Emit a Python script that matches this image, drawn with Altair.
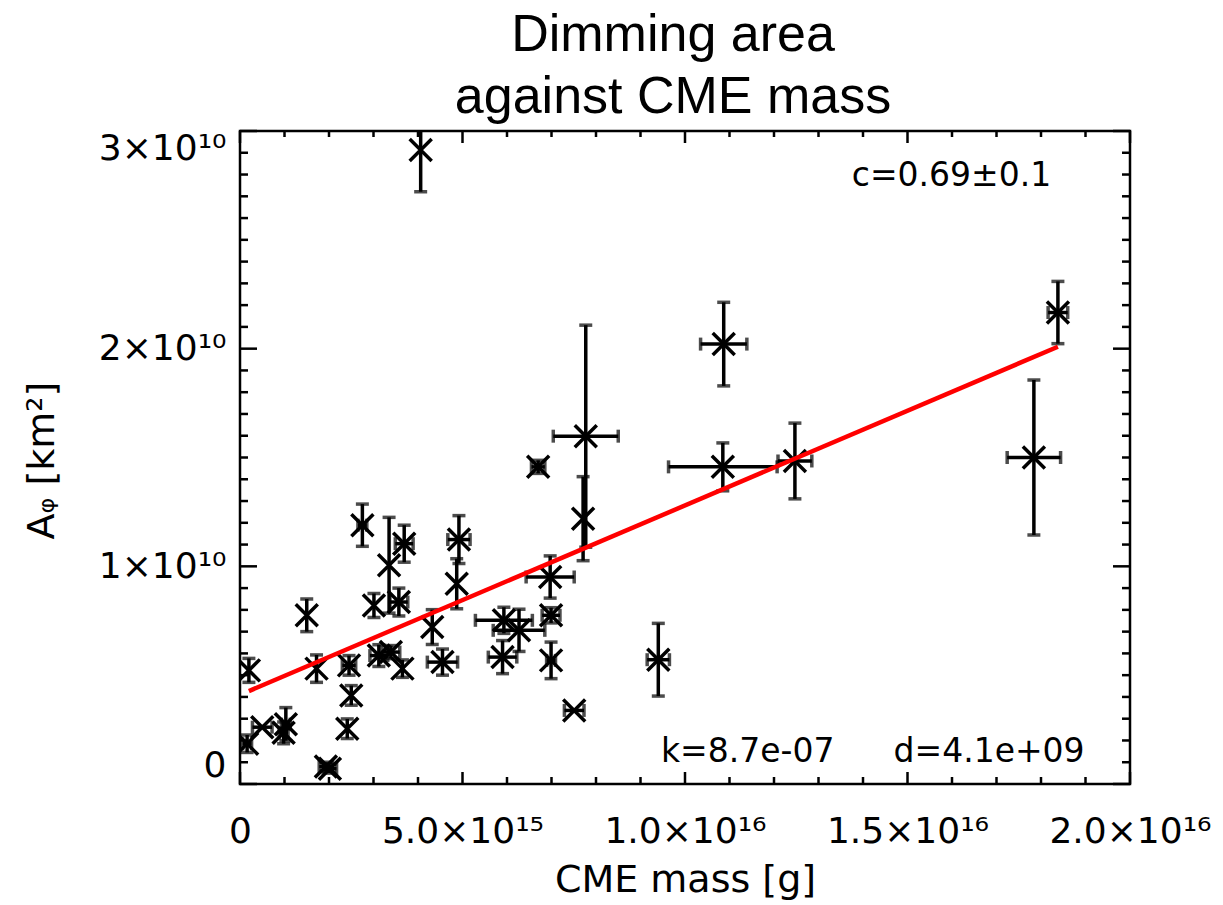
import altair as alt
import pandas as pd

# ---- data (mass in 1e15 g, area in 1e9 km^2) ----
mass_e15 = [0.20, 0.16, 0.50, 0.98, 1.03, 1.50, 1.72, 1.93, 2.02, 2.45,
            2.50, 2.41, 3.01, 3.57, 3.12, 3.39, 3.65, 4.32, 4.55, 2.75,
            3.35, 3.69, 4.92, 4.87, 7.77, 7.71, 6.70, 6.97, 5.93, 6.27,
            5.90, 6.99, 6.99, 7.51, 9.40, 10.87, 10.85, 12.47, 17.84, 18.38,
            4.06]
area_e9 = [5.22, 1.85, 2.61, 2.35, 2.75, 7.75, 5.30, 0.80, 0.70, 5.45,
           4.07, 2.54, 8.20, 8.36, 5.90, 6.06, 5.30, 7.21, 5.60, 11.89,
           10.05, 11.04, 11.23, 9.20, 15.98, 12.19, 14.57, 9.51, 7.52, 7.06,
           5.83, 7.75, 5.68, 3.38, 5.71, 20.21, 14.57, 14.84, 15.00, 21.66,
           29.13]
mass_err_e15 = [0.0, 0.10, 0.22, 0.10, 0.10, 0.0, 0.0, 0.15, 0.15, 0.15,
                0.0, 0.0, 0.0, 0.20, 0.20, 0.20, 0.0, 0.0, 0.34, 0.10,
                0.0, 0.20, 0.25, 0.0, 0.73, 0.0, 0.15, 0.54, 0.64, 0.58,
                0.32, 0.20, 0.10, 0.22, 0.25, 0.52, 1.22, 0.38, 0.60, 0.22,
                0.0]
area_err_e9 = [0.55, 0.40, 0.0, 0.50, 0.76, 0.75, 0.63, 0.20, 0.20, 0.45,
               0.45, 0.45, 0.55, 0.64, 0.50, 0.30, 0.40, 0.80, 0.60, 0.97,
               2.20, 0.85, 1.10, 1.15, 5.10, 1.93, 0.30, 0.97, 0.60, 0.97,
               0.76, 0.35, 0.84, 0.0, 1.67, 1.92, 1.10, 1.74, 3.56, 1.43,
               1.92]

# linear fit drawn in red (end points)
fit_mass_e15 = [0.20, 18.38]
fit_area_e9 = [4.27, 20.09]

# tick values and labels
x_tick_values = [0, 5e15, 1e16, 1.5e16, 2e16]
x_tick_labels = ["0", "5.0×10¹⁵", "1.0×10¹⁶", "1.5×10¹⁶", "2.0×10¹⁶"]
y_tick_values = [0, 1e10, 2e10, 3e10]
y_tick_labels = ["0", "1×10¹⁰", "2×10¹⁰", "3×10¹⁰"]
x_minor_values = [i * 1e15 for i in range(21) if i % 5 != 0]
y_minor_values = [i * 1e9 for i in range(31) if i % 10 != 0]

# annotations
ann_right_text = ["c=0.69±0.1", "d=4.1e+09"]
ann_right_x = [18.23e15, 18.98e15]
ann_right_y = [27.93e9, 1.45e9]
ann_left_text = ["k=8.7e-07"]
ann_left_x = [9.46e15]
ann_left_y = [1.45e9]

W, H = 890, 653
FONT = "DejaVu Sans"

df = pd.DataFrame({
    "mass": [m * 1e15 for m in mass_e15],
    "area": [a * 1e9 for a in area_e9],
    "mass_err": [e * 1e15 for e in mass_err_e15],
    "area_err": [e * 1e9 for e in area_err_e9],
})
df["mlo"] = df["mass"] - df["mass_err"]
df["mhi"] = df["mass"] + df["mass_err"]
df["alo"] = df["area"] - df["area_err"]
df["ahi"] = df["area"] + df["area_err"]
dfx = df[df["mass_err"] > 0]
dfy = df[df["area_err"] > 0]

fit_df = pd.DataFrame({"mass": [m * 1e15 for m in fit_mass_e15],
                       "area": [a * 1e9 for a in fit_area_e9]})


def label_expr(vals, labels, tol):
    expr = "''"
    for v, l in reversed(list(zip(vals, labels))):
        expr = f"abs(datum.value - {v!r}) < {tol} ? '{l}' : ({expr})"
    return expr


xscale = alt.Scale(domain=[0, 2e16], nice=False, zero=False)
yscale = alt.Scale(domain=[0, 3e10], nice=False, zero=False)

xaxis = alt.Axis(
    values=x_tick_values, labelExpr=label_expr(x_tick_values, x_tick_labels, 1e11),
    title="CME mass [g]", ticks=False, tickSize=0, domain=False, grid=False,
    labelFlush=False, labelOverlap=False, labelBound=False,
    labelFont=FONT, labelFontSize=36, labelColor="black",
    labelPadding=58, labelBaseline="alphabetic",
    titleFont=FONT, titleFontSize=38, titleFontWeight="normal", titleColor="black",
    titleY=107, titleBaseline="alphabetic",
)
yaxis = alt.Axis(
    values=y_tick_values, labelExpr=label_expr(y_tick_values, y_tick_labels, 1e6),
    title="Aᵩ [km²]", ticks=False, tickSize=0, domain=False, grid=False,
    labelFlush=True, labelOverlap=False, labelBound=False,
    labelFont=FONT, labelFontSize=36, labelColor="black", labelPadding=14,
    titleFont=FONT, titleFontSize=38, titleFontWeight="normal", titleColor="black",
    titleX=-187, titleY=329, titleBaseline="alphabetic", titleAlign="center",
    titleAngle=-90,
)

X = lambda f: alt.X(f, type="quantitative", scale=xscale, axis=xaxis)
Y = lambda f: alt.Y(f, type="quantitative", scale=yscale, axis=yaxis)

ERR_W = 3.5
CAP = 13

vbar = alt.Chart(dfy).mark_rule(color="black", strokeWidth=ERR_W, clip=True).encode(
    x=X("mass"), y=Y("alo"), y2="ahi")
vcap_lo = alt.Chart(dfy).mark_tick(color="black", orient="horizontal", size=CAP,
                                    thickness=ERR_W, clip=True).encode(x=X("mass"), y=Y("alo"))
vcap_hi = alt.Chart(dfy).mark_tick(color="black", orient="horizontal", size=CAP,
                                    thickness=ERR_W, clip=True).encode(x=X("mass"), y=Y("ahi"))
hbar = alt.Chart(dfx).mark_rule(color="black", strokeWidth=ERR_W, clip=True).encode(
    x=X("mlo"), x2="mhi", y=Y("area"))
hcap_lo = alt.Chart(dfx).mark_tick(color="black", orient="vertical", size=CAP,
                                    thickness=ERR_W, clip=True).encode(x=X("mlo"), y=Y("area"))
hcap_hi = alt.Chart(dfx).mark_tick(color="black", orient="vertical", size=CAP,
                                    thickness=ERR_W, clip=True).encode(x=X("mhi"), y=Y("area"))

points = alt.Chart(df).mark_point(
    shape="M-1,-1L1,1M-1,1L1,-1", size=484, filled=False, color="black",
    strokeWidth=3.5, opacity=1, clip=True
).encode(x=X("mass"), y=Y("area"))

fit = alt.Chart(fit_df).mark_line(color="#FF0000", strokeWidth=4.5).encode(
    x=X("mass"), y=Y("area"))

ann_r = alt.Chart(pd.DataFrame({"t": ann_right_text, "x": ann_right_x, "y": ann_right_y})).mark_text(
    align="right", baseline="middle", font=FONT, fontSize=33, color="black"
).encode(x=X("x"), y=Y("y"), text="t")
ann_l = alt.Chart(pd.DataFrame({"t": ann_left_text, "x": ann_left_x, "y": ann_left_y})).mark_text(
    align="left", baseline="middle", font=FONT, fontSize=33, color="black"
).encode(x=X("x"), y=Y("y"), text="t")

# inward ticks on all four sides
TW = 2.5
xmaj = pd.DataFrame({"v": x_tick_values})
xmin = pd.DataFrame({"v": x_minor_values})
ymaj = pd.DataFrame({"v": y_tick_values})
ymin = pd.DataFrame({"v": y_minor_values})

tick_layers = [
    alt.Chart(xmaj).mark_rule(color="black", strokeWidth=TW).encode(
        x=X("v"), y=alt.value(H), y2=alt.value(H - 12)),
    alt.Chart(xmaj).mark_rule(color="black", strokeWidth=TW).encode(
        x=X("v"), y=alt.value(0), y2=alt.value(12)),
    alt.Chart(xmin).mark_rule(color="black", strokeWidth=TW).encode(
        x=X("v"), y=alt.value(H), y2=alt.value(H - 7)),
    alt.Chart(xmin).mark_rule(color="black", strokeWidth=TW).encode(
        x=X("v"), y=alt.value(0), y2=alt.value(6)),
    alt.Chart(ymaj).mark_rule(color="black", strokeWidth=TW).encode(
        y=Y("v"), x=alt.value(0), x2=alt.value(17)),
    alt.Chart(ymaj).mark_rule(color="black", strokeWidth=TW).encode(
        y=Y("v"), x=alt.value(W), x2=alt.value(W - 17)),
    alt.Chart(ymin).mark_rule(color="black", strokeWidth=TW).encode(
        y=Y("v"), x=alt.value(0), x2=alt.value(8)),
    alt.Chart(ymin).mark_rule(color="black", strokeWidth=TW).encode(
        y=Y("v"), x=alt.value(W), x2=alt.value(W - 8)),
]

chart = alt.layer(
    *tick_layers, vbar, vcap_lo, vcap_hi, hbar, hcap_lo, hcap_hi, points, fit, ann_r, ann_l
).properties(
    width=W, height=H,
    title=alt.TitleParams(
        text=["Dimming area", "against CME mass"], font="Liberation Sans",
        fontSize=52, fontWeight="normal", color="black", lineHeight=62,
        anchor="middle", offset=6, dx=-12,
    ),
    padding={"left": 240, "top": 131, "right": 93, "bottom": 121},
    autosize=alt.AutoSizeParams(type="none"),
    background="white",
).configure_view(
    stroke="black", strokeWidth=2.5
)

chart.save("out.html", embed_options={"renderer": "svg", "actions": False})
